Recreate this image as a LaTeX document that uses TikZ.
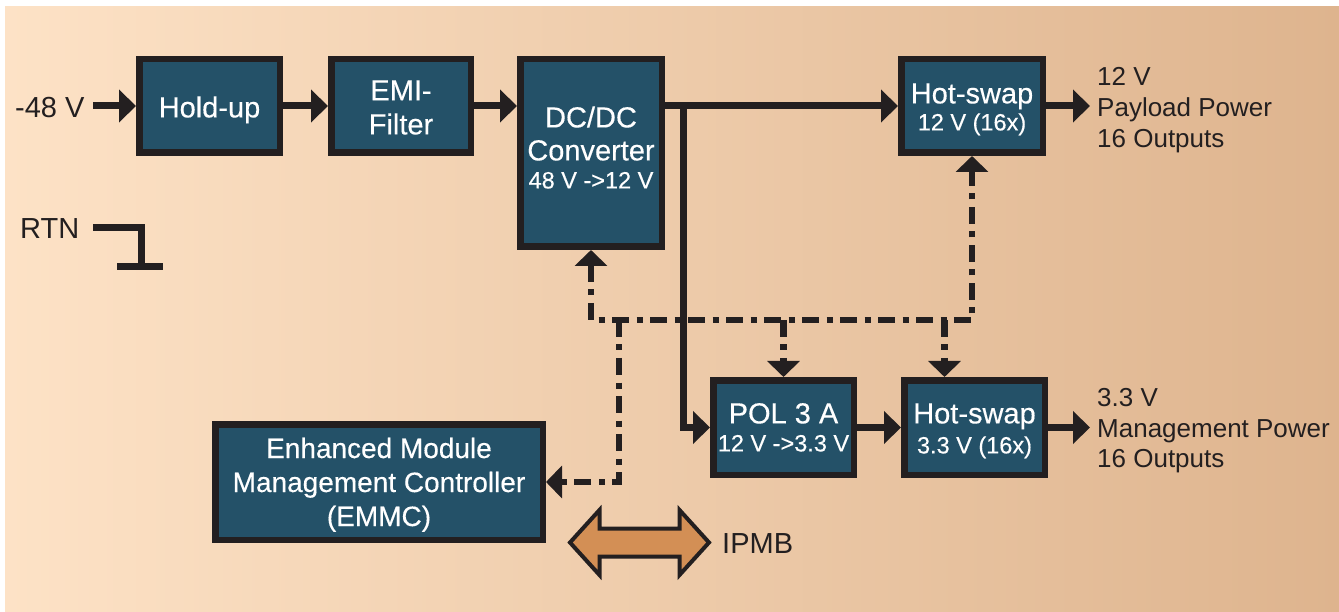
\documentclass[tikz,border=0pt]{standalone}
\usepackage{fontspec}
\setmainfont{Liberation Sans}
\newfontfamily\boxfont[FakeBold=0.35]{Liberation Sans}
\usetikzlibrary{arrows.meta,calc}
\definecolor{ink}{HTML}{231F20}
\definecolor{boxfill}{HTML}{245168}
\definecolor{bgL}{RGB}{253,226,198}
\definecolor{bgR}{RGB}{222,180,142}
\definecolor{busorange}{RGB}{211,143,85}
\begin{document}
\begin{tikzpicture}[x=1pt,y=-1pt,
  block/.style={draw=ink, fill=boxfill, line width=6.5pt, inner sep=0pt},
  bigw/.style={font=\boxfont\fontsize{29}{33}\selectfont, text=white, inner sep=0pt, anchor=base},
  smallw/.style={font=\boxfont\fontsize{23.5}{27}\selectfont, text=white, inner sep=0pt, anchor=base},
  emmcw/.style={font=\boxfont\fontsize{28}{33}\selectfont, text=white, inner sep=0pt, anchor=base},
  outtxt/.style={font=\fontsize{26}{31}\selectfont, text=ink, inner sep=0pt, anchor=base west},
  outbig/.style={font=\fontsize{29}{33}\selectfont, text=ink, inner sep=0pt, anchor=base west},
  pw/.style={draw=ink, line width=7pt, line join=miter, -{Triangle[length=17pt,width=32pt]}},
  ctrl/.style={draw=ink, line width=6.5pt, line join=miter,
    dash pattern=on 17pt off 7.5pt on 6pt off 7.5pt},
  gnd/.style={draw=ink, line width=7pt, line join=miter}
]
\useasboundingbox (0,0) rectangle (1339,612);
% background panel
\fill[left color=bgL, right color=bgR] (5,7) rectangle (1339,612);

% blocks (outer size = minimum size + line width)
\node[block, minimum width=140.5pt, minimum height=93.5pt] (holdup) at (209.5,106) {};
\node[block, minimum width=139.5pt, minimum height=93.5pt] (emi) at (401,106) {};
\node[block, minimum width=141.5pt, minimum height=187.5pt] (dcdc) at (591,153) {};
\node[block, minimum width=141.5pt, minimum height=93.5pt] (hs12) at (972,106) {};
\node[block, minimum width=140.5pt, minimum height=94.5pt] (pol) at (783.5,427.5) {};
\node[block, minimum width=140.5pt, minimum height=94.5pt] (hs33) at (974.5,427.5) {};
\node[block, minimum width=327.5pt, minimum height=115.5pt] (emmc) at (379,482) {};

% block labels
\node[bigw] (tHold) at (209.5,117.4) {Hold-up};
\node[bigw] (tEmi1) at (401,100.4) {EMI-};
\node[bigw] (tEmi2) at (401,134.4) {Filter};
\node[bigw] (tDc1) at (591,127.4) {DC/DC};
\node[bigw] (tDc2) at (591,160.4) {Converter};
\node[smallw] (tDc3) at (591,188.4) {48 V ->12 V};
\node[bigw] (tHs1) at (972,103.4) {Hot-swap};
\node[smallw] (tHs2) at (972,130.4) {12 V (16x)};
\node[bigw] (tPol1) at (783.5,423.4) {POL 3 A};
\node[smallw] (tPol2) at (783.5,451.4) {12 V ->3.3 V};
\node[bigw] (tHt1) at (974.5,423.4) {Hot-swap};
\node[smallw] (tHt2) at (974.5,453.4) {3.3 V (16x)};
\node[emmcw] (tEm1) at (379,458) {Enhanced Module};
\node[emmcw] (tEm2) at (379,492) {Management Controller};
\node[emmcw] (tEm3) at (379,526) {(EMMC)};

% outside labels
\node[outbig] (v48) at (15,117.4) {-48 V};
\node[outbig] (rtn) at (20,238.4) {RTN};
\node[outtxt] (o12a) at (1097,85.3) {12 V};
\node[outtxt] (o12b) at (1097,116.3) {Payload Power};
\node[outtxt] (o12c) at (1097,147.3) {16 Outputs};
\node[outtxt] (o33a) at (1097,406.3) {3.3 V};
\node[outtxt] (o33b) at (1097,437.3) {Management Power};
\node[outtxt] (o33c) at (1097,467.3) {16 Outputs};
\node[outbig] (ipmb) at (722,553.4) {IPMB};

% free ends and junctions
\coordinate (in48) at (93,106);
\coordinate (o12) at (1090,106);
\coordinate (o33) at (1090,427.5);
\coordinate (tap) at (683,106);
\coordinate (busL) at (591,320);
\coordinate (busR) at (972,320);
\coordinate (emmcTap) at (619,320);
\coordinate (hs33in) at ($(hs33.north)+(-30,0)$);
\coordinate (rtnA) at (93,228);
\coordinate (rtnB) at (141,228);
\coordinate (rtnC) at (141,267);
\coordinate (rtnD) at (117,267);
\coordinate (rtnE) at (163,267);

% management (control) bus
\draw[ctrl, {Triangle[length=16pt,width=32pt]}-{Triangle[length=16pt,width=32pt]}]
  (dcdc.south) -- (busL) -- (busR) -- (hs12.south);
\draw[ctrl, -{Triangle[length=16pt,width=32pt]}] (pol.north |- busL) -- (pol.north);
\draw[ctrl, -{Triangle[length=16pt,width=32pt]}] (hs33in |- busL) -- (hs33in);
\draw[ctrl, -{Triangle[length=16pt,width=32pt]}] (emmcTap) |- (emmc.east);

% power path
\draw[pw] (in48) -- (holdup.west);
\draw[pw] (holdup.east) -- (emi.west);
\draw[pw] (emi.east) -- (dcdc.west |- emi.east);
\draw[pw] (dcdc.east |- hs12.west) -- (hs12.west);
\draw[pw] (tap) |- (pol.west);
\draw[pw] (pol.east) -- (hs33.west);
\draw[pw] (hs12.east) -- (o12);
\draw[pw] (hs33.east) -- (o33);

% return symbol
\draw[gnd] (rtnA) -- (rtnB) -- (rtnC);
\draw[gnd] (rtnD) -- (rtnE);

% IPMB double arrow
\draw[fill=busorange, draw=ink, line width=4pt, line join=miter]
  (570,542.5) -- (599.5,510) -- (599.5,528.5) -- (679.5,528.5) -- (679.5,510)
  -- (709,542.5) -- (679.5,575) -- (679.5,556.5) -- (599.5,556.5) -- (599.5,575) -- cycle;
\end{tikzpicture}
\end{document}
